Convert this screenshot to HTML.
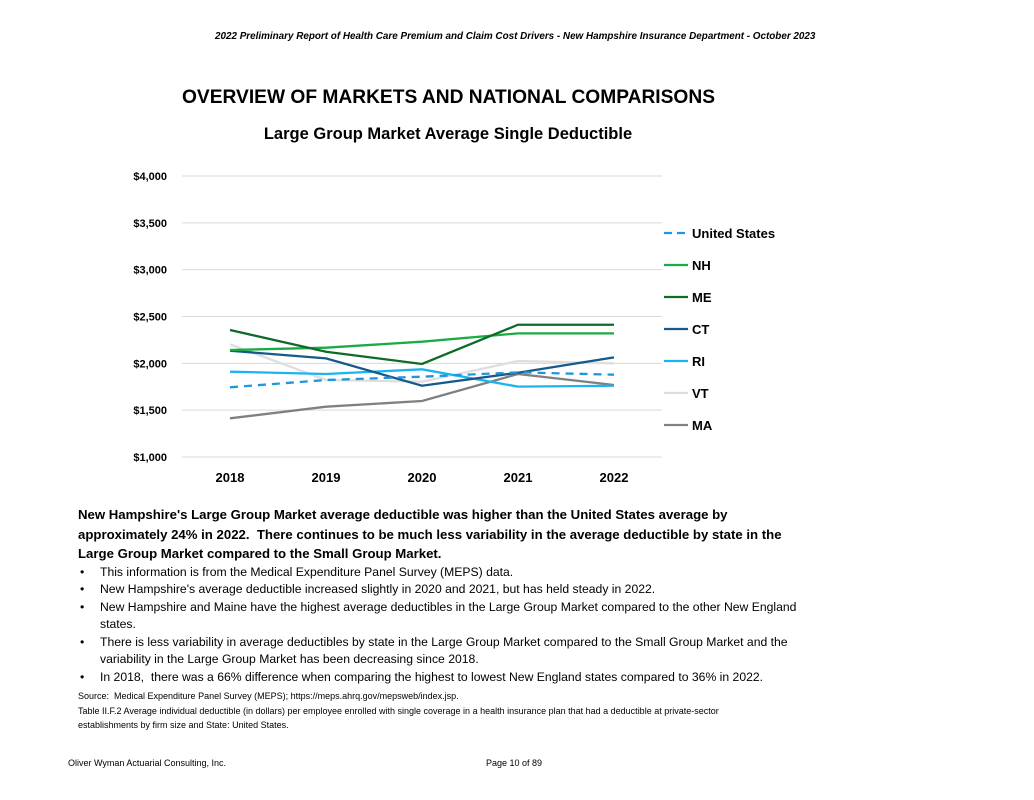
<!DOCTYPE html>
<html><head><meta charset="utf-8"><style>
body{margin:0;background:#fff;font-family:"Liberation Sans",sans-serif;color:#000}
#page{position:relative;width:1034px;height:800px;overflow:hidden}
.abs{position:absolute;white-space:nowrap}
.body p{margin:0}
ul{margin:0;padding:0;list-style:none}
li{position:relative;padding-left:22px;font-size:12.2px;line-height:17.5px}
li:before{content:"•";position:absolute;left:2px}
</style></head><body>
<div id="page">
<div class="abs" style="left:215px;top:31px;font-size:9.9px;font-weight:bold;font-style:italic">2022 Preliminary Report of Health Care Premium and Claim Cost Drivers - New Hampshire Insurance Department - October 2023</div>
<div class="abs" style="left:182px;top:87px;font-size:19.2px;font-weight:bold">OVERVIEW OF MARKETS AND NATIONAL COMPARISONS</div>
<svg id="chart" class="abs" style="left:0;top:0" width="1034" height="500"></svg>
<div class="abs body" style="left:78px;top:505px;width:728px;white-space:normal">
<p style="font-size:13.2px;font-weight:bold;line-height:19.5px">New Hampshire's Large Group Market average deductible was higher than the United States average by approximately 24% in 2022.&nbsp; There continues to be much less variability in the average deductible by state in the Large Group Market compared to the Small Group Market.</p>
<ul>
<li>This information is from the Medical Expenditure Panel Survey (MEPS) data.</li>
<li>New Hampshire's average deductible increased slightly in 2020 and 2021, but has held steady in 2022.</li>
<li>New Hampshire and Maine have the highest average deductibles in the Large Group Market compared to the other New England states.</li>
<li>There is less variability in average deductibles by state in the Large Group Market compared to the Small Group Market and the variability in the Large Group Market has been decreasing since 2018.</li>
<li>In 2018,&nbsp; there was a 66% difference when comparing the highest to lowest New England states compared to 36% in 2022.</li>
</ul>
<p style="font-size:9px;line-height:14.5px;margin-top:3px;width:700px">Source:&nbsp; Medical Expenditure Panel Survey (MEPS); https://meps.ahrq.gov/mepsweb/index.jsp.<br>Table II.F.2 Average individual deductible (in dollars) per employee enrolled with single coverage in a health insurance plan that had a deductible at private-sector establishments by firm size and State: United States.</p>
</div>
<div class="abs" style="left:68px;top:758px;font-size:9px">Oliver Wyman Actuarial Consulting, Inc.</div>
<div class="abs" style="left:486px;top:758px;font-size:9px">Page 10 of 89</div>
</div>
<script>
const years=["2018","2019","2020","2021","2022"];
const ticks=[1000,1500,2000,2500,3000,3500,4000];
const seriesNames=["United States","NH","ME","CT","RI","VT","MA"];
const usVals=[1744,1822,1857,1904,1879];
const nhVals=[2142,2167,2231,2320,2320];
const meVals=[2356,2124,1993,2412,2412];
const ctVals=[2135,2053,1761,1900,2064];
const riVals=[1911,1886,1936,1751,1761];
const vtVals=[2203,1822,1804,2025,2000];
const maVals=[1413,1537,1598,1886,1769];
const NS="http://www.w3.org/2000/svg";
const svg=document.getElementById('chart');
const x=i=>230+i*96;
const y=v=>457-(v-1000)*281/3000;
function mk(t,a,txt){const e=document.createElementNS(NS,t);for(const k in a)e.setAttribute(k,a[k]);if(txt!=null)e.textContent=txt;svg.appendChild(e);return e;}
let e=mk('text',{x:448,y:139,'text-anchor':'middle','font-size':16.5,'font-weight':'bold','font-family':'Liberation Sans'},'Large Group Market Average Single Deductible');


ticks.forEach(t=>{
 const g=mk('line',{x1:182,x2:662,y1:y(t),y2:y(t),stroke:'#d9d9d9','stroke-width':1});
 
 
 const l=mk('text',{x:167,y:y(t)+4,'text-anchor':'end','font-size':11,'font-weight':'bold','font-family':'Liberation Sans'},'$'+t.toLocaleString('en-US'));
 
 
});
years.forEach((yr,i)=>{
 const l=mk('text',{x:x(i),y:482,'text-anchor':'middle','font-size':13,'font-weight':'bold','font-family':'Liberation Sans'},yr);
 
 
});
const all=[usVals,nhVals,meVals,ctVals,riVals,vtVals,maVals];
const cols=["#1f96dd","#1aab45","#0d6b2a","#155a8a","#1cb4f0","#dedede","#808080"];
const names=["line-us","line-nh","line-me","line-ct","line-ri","line-vt","line-ma"];
const order=[5,6,4,3,1,2,0];
order.forEach(k=>{
 const p=mk('polyline',{points:all[k].map((v,i)=>x(i)+','+y(v)).join(' '),fill:'none',stroke:cols[k],'stroke-width':2.3,'stroke-dasharray':k==0?'8,6':'none'});
 
 
});
seriesNames.forEach((n,k)=>{
 const yy=233+k*32;
 const l=mk('line',{x1:664,x2:688,y1:yy,y2:yy,stroke:cols[k],'stroke-width':2.3,'stroke-dasharray':k==0?'8,5':'none'});
 
 
 const t=mk('text',{x:692,y:yy+5,'font-size':13,'font-weight':'bold','font-family':'Liberation Sans'},n);
 
 
});
</script>
</body></html>
